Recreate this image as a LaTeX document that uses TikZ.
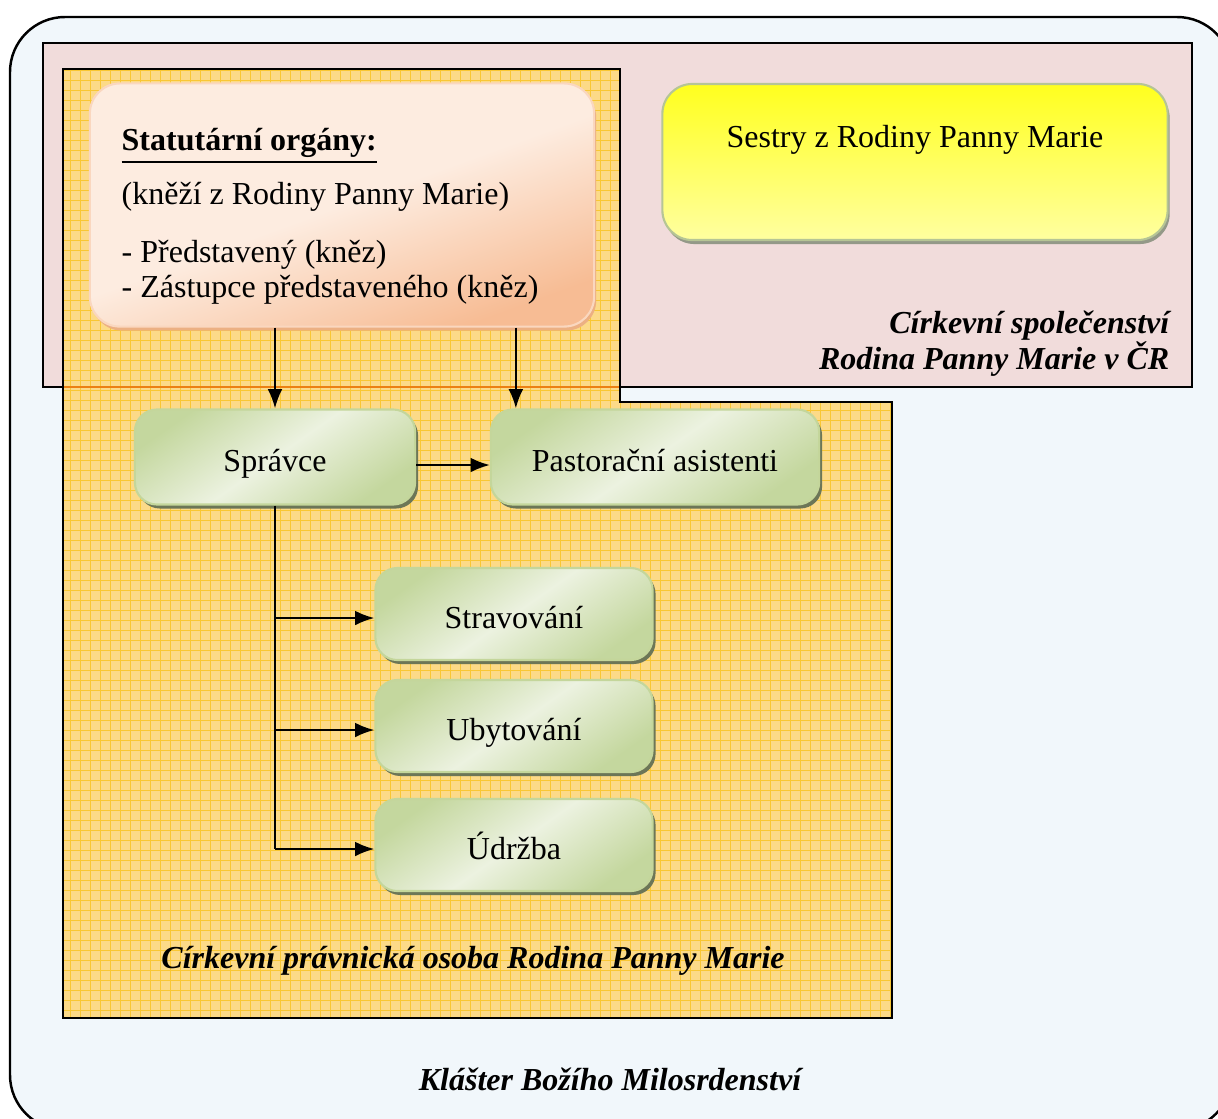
\documentclass[tikz,border=0pt]{standalone}
\usepackage{fontspec}
\setmainfont{Liberation Serif}
\usetikzlibrary{positioning,shadows,arrows.meta}
\definecolor{bgblue}{RGB}{241,247,251}
\definecolor{rosy}{RGB}{241,220,219}
\definecolor{orangebg}{RGB}{252,218,136}
\definecolor{orangegrid}{RGB}{249,199,52}
\definecolor{peachlight}{RGB}{253,236,224}
\definecolor{peachdark}{RGB}{247,188,148}
\definecolor{greenlight}{RGB}{236,242,224}
\definecolor{greendark}{RGB}{196,215,158}
\definecolor{greenline}{RGB}{196,214,155}
\definecolor{yellowtop}{RGB}{255,255,30}
\definecolor{yellowbot}{RGB}{255,255,160}
\tikzset{
  unit/.style={rounded corners=0.22cm, draw=greenline, line width=0.6pt,
    top color=greendark, bottom color=greendark, middle color=greenlight, shading angle=35,
    drop shadow={shadow xshift=0.03cm, shadow yshift=-0.04cm, fill=black!45!greendark, opacity=1},
    minimum width=2.77cm, minimum height=0.92cm, text height=1.04em, text depth=0.2em},
  title/.style={font=\fontsize{9.1pt}{11pt}\selectfont\bfseries\itshape},
  conn/.style={line width=0.6pt},
}
\begin{document}
\begin{tikzpicture}[x=0.01cm, y=-0.01cm, >={Latex[length=5.5pt,width=4.2pt]}, font=\fontsize{9.1pt}{11pt}\selectfont]
\useasboundingbox (0,0) rectangle (1218,1118);
\clip (0,0) rectangle (1218,1118);
\draw [fill=bgblue, rounded corners=0.55cm, line width=0.7pt] (10,17) rectangle (1232,1130);
\draw [fill=rosy, line width=0.6pt] (43,43) rectangle (1192,387);
\fill [orangebg] (63,69) -- (620,69) -- (620,402) -- (892,402) -- (892,1018) -- (63,1018) -- cycle;
\begin{scope}
\clip (63,69) -- (620,69) -- (620,402) -- (892,402) -- (892,1018) -- (63,1018) -- cycle;
\draw [orangegrid, line width=0.3pt, step=0.1cm] (60,60) grid (900,1020);
\end{scope}
\draw [orange!70!brown, line width=0.6pt] (63,387) -- (620,387);
\draw [line width=0.6pt] (63,69) -- (620,69) -- (620,402) -- (892,402) -- (892,1018) -- (63,1018) -- cycle;

% statutarni organy
\node [rounded corners=0.3cm, draw=peachdark!60, line width=0.6pt, top color=peachlight, bottom color=peachdark, middle color=peachlight, shading angle=20,
  drop shadow={shadow xshift=0.02cm, shadow yshift=-0.04cm, fill=peachdark!80!brown, opacity=1},
  minimum width=5.04cm, minimum height=2.43cm] (statut) at (342,205) {};
\node [anchor=base west, inner sep=0pt, font=\fontsize{9.1pt}{11pt}\selectfont\bfseries] (stat1) at (121,150) {\underline{Statutární orgány:}};
\node [anchor=base west, inner sep=0pt] (stat2) at (121,204) {(kněží z Rodiny Panny Marie)};
\node [anchor=base west, inner sep=0pt] (stat3) at (121,262) {- Představený (kněz)};
\node [anchor=base west, inner sep=0pt] (stat4) at (121,297) {- Zástupce představeného (kněz)};

% sestry
\node [rounded corners=0.3cm, draw=greenline!80!gray, line width=0.6pt, top color=yellowtop, bottom color=yellowbot,
  drop shadow={shadow xshift=0.02cm, shadow yshift=-0.04cm, fill=gray!70!greenline, opacity=1},
  minimum width=5.05cm, minimum height=1.56cm] (sestry) at (915,162) {};
\node [anchor=base, inner sep=0pt] (sestrytxt) at (915,147) {Sestry z Rodiny Panny Marie};

\node [title, anchor=base east, inner sep=0pt] (spol1) at (1170,333) {Církevní společenství};
\node [title, anchor=base east, inner sep=0pt] (spol2) at (1170,369) {Rodina Panny Marie v ČR};

% usek spravce
\node [unit, minimum width=2.8cm, minimum height=0.95cm] (spravce) at (275,457) {Správce};
\node [unit, minimum width=3.28cm, minimum height=0.95cm] (pastor) at (655,457) {Pastorační asistenti};
\node [unit] (strava) at (514,614) {Stravování};
\node [unit] (ubyt) at (514,726) {Ubytování};
\node [unit] (udrzba) at (514,845) {Údržba};

\coordinate (ptop) at ([xshift=0.26cm]pastor.north west);
\draw [->, conn] (statut.south -| spravce.north) -- (spravce.north);
\draw [->, conn] (statut.south -| ptop) -- (ptop);
\draw [->, conn] ([yshift=-0.08cm]spravce.east) -- ([yshift=-0.08cm]pastor.west);
\draw [conn] (spravce.south) -- ([yshift=-0.04cm]spravce.south |- udrzba.west);
\foreach \n in {strava,ubyt,udrzba}
  \draw [->, conn] ([yshift=-0.04cm]spravce.south |- \n.west) -- ([yshift=-0.04cm]\n.west);

\node [title, anchor=base, inner sep=0pt] (cpo) at (473,968) {Církevní právnická osoba Rodina Panny Marie};
\node [title, anchor=base, inner sep=0pt] (klaster) at (610,1090) {Klášter Božího Milosrdenství};
\end{tikzpicture}
\end{document}
